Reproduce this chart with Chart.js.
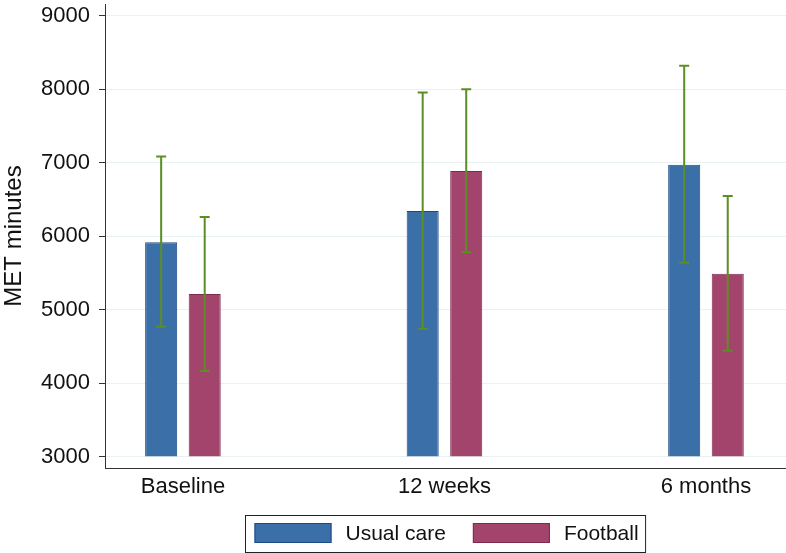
<!DOCTYPE html>
<html>
<head>
<meta charset="utf-8">
<script src="https://cdn.jsdelivr.net/npm/chart.js@4/dist/chart.umd.min.js"></script>
<style>
  html, body { margin: 0; padding: 0; background: #fff; }
  #wrap { width: 786px; height: 553px; }
</style>
</head>
<body>
<div id="wrap"><canvas id="graph"></canvas></div>
<script>
// data
const categories = ['Baseline', '12 weeks', '6 months']
const usualCare = [5920, 6345, 6975]
const usualCareLo = [4770, 4745, 5640]
const usualCareHi = [7085, 7955, 8320]
const football = [5215, 6890, 5490]
const footballLo = [4170, 5785, 4445]
const footballHi = [6265, 8000, 6550]
const yTicks = [3000, 4000, 5000, 6000, 7000, 8000, 9000]

const FONT = "'Liberation Sans', Arial, Helvetica, sans-serif"
const GREEN = '#5b8e23'

const ctx = document.querySelector('#graph').getContext('2d')

// error bars on top of the bars
const errorBars = {
    id: 'errorBars',
    afterDatasetsDraw(chart) {
        const y = chart.scales.y
        const c = chart.ctx
        c.save()
        c.strokeStyle = GREEN
        c.lineWidth = 2
        chart.data.datasets.forEach((ds, i) => {
            const meta = chart.getDatasetMeta(i)
            meta.data.forEach((bar, j) => {
                const top = y.getPixelForValue(ds.hi[j])
                const bot = y.getPixelForValue(ds.lo[j])
                c.beginPath()
                c.moveTo(bar.x, top); c.lineTo(bar.x, bot)
                c.moveTo(bar.x - 5, top); c.lineTo(bar.x + 5, top)
                c.moveTo(bar.x - 5, bot); c.lineTo(bar.x + 5, bot)
                c.stroke()
            })
        })
        c.restore()
    }
}

// boxed legend under the plot, centred on the plot region
const boxLegend = {
    id: 'boxLegend',
    afterDraw(chart) {
        const c = chart.ctx
        const area = chart.chartArea
        c.save()
        c.font = '21px ' + FONT
        const items = chart.data.datasets.map(ds => ({ ds, w: c.measureText(ds.label).width }))
        const total = 9 + items.reduce((s, it) => s + 77 + 14 + it.w, 0) + 27 * (items.length - 1) + 7
        const left = Math.round((area.left + area.right) / 2 - total / 2) + 0.5
        const top = 515.5
        c.strokeStyle = '#222'
        c.lineWidth = 1
        c.strokeRect(left, top, total, 37)
        let x = left + 9
        items.forEach(it => {
            c.fillStyle = it.ds.backgroundColor
            c.fillRect(x, 523, 77, 20)
            c.strokeStyle = it.ds.borderColor
            c.strokeRect(x + 0.5, 523.5, 76, 19)
            x += 77 + 14
            c.fillStyle = '#111'
            c.textBaseline = 'middle'
            c.fillText(it.ds.label, x, 534)
            x += it.w + 27
        })
        c.restore()
    }
}

new Chart(ctx, {
    type: 'bar',
    data: {
        datasets: [
            {
                label: 'Usual care',
                data: usualCare.map((v, i) => ({ x: i + 1, y: v })),
                lo: usualCareLo,
                hi: usualCareHi,
                backgroundColor: '#3a6fa8',
                borderColor: '#1d4a86',
                borderWidth: 1,
                base: 3000
            },
            {
                label: 'Football',
                data: football.map((v, i) => ({ x: i + 1, y: v })),
                lo: footballLo,
                hi: footballHi,
                backgroundColor: '#a3446c',
                borderColor: '#7e2a4f',
                borderWidth: 1,
                base: 3000
            }
        ]
    },
    options: {
        responsive: true,
        maintainAspectRatio: false,
        animation: false,
        categoryPercentage: 0.333,
        barPercentage: 0.736,
        layout: { padding: { top: 4, right: 0, bottom: 50, left: 0 } },
        plugins: {
            legend: { display: false },
            tooltip: { enabled: false }
        },
        scales: {
            x: {
                type: 'linear',
                offset: false,
                min: 0.702,
                max: 3.306,
                afterBuildTicks: s => { s.ticks = categories.map((c, i) => ({ value: i + 1 })) },
                afterFit: s => { s.height = 35 },
                grid: { display: false, drawTicks: false, offset: false },
                border: { display: true, color: '#333', width: 1 },
                ticks: {
                    padding: 6,
                    maxRotation: 0,
                    autoSkip: false,
                    color: '#111',
                    font: { family: FONT, size: 22 },
                    callback: v => categories[v - 1]
                }
            },
            y: {
                min: 2850,
                max: 9160,
                afterBuildTicks: s => { s.ticks = yTicks.map(v => ({ value: v })) },
                afterFit: s => {
                    s.width = 105
                    s.paddingTop = 0
                    s.paddingBottom = 0
                },
                grid: {
                    color: '#e9f2f0',
                    tickColor: '#333',
                    tickLength: 6
                },
                border: { display: true, color: '#333', width: 1 },
                ticks: {
                    padding: 9,
                    color: '#111',
                    font: { family: FONT, size: 22 },
                    callback: v => String(v)
                },
                title: {
                    display: true,
                    text: 'MET minutes',
                    color: '#111',
                    padding: 0,
                    font: { family: FONT, size: 24 }
                }
            }
        }
    },
    plugins: [errorBars, boxLegend]
})
</script>
</body>
</html>
